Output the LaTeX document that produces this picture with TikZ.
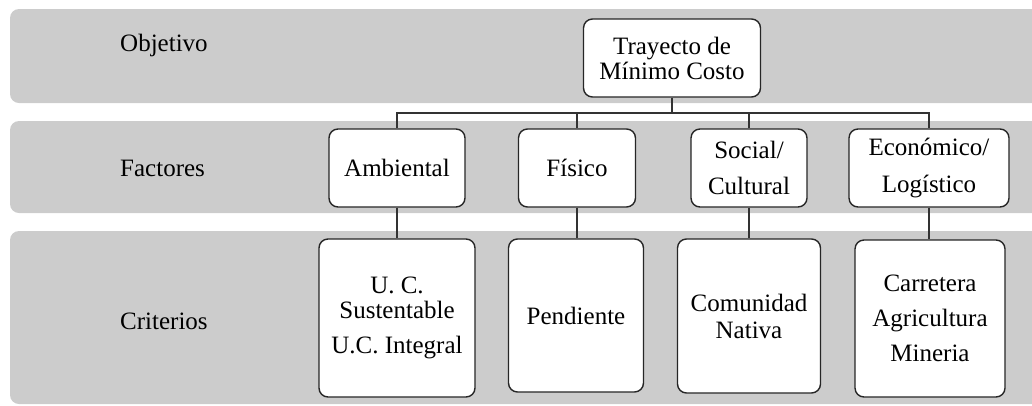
\documentclass[tikz,border=0pt]{standalone}
\usepackage{fontspec}
\setmainfont{Liberation Serif}
\begin{document}
\begin{tikzpicture}[x=1pt,y=-1pt,
  band/.style={fill=black!20, rounded corners=9pt},
  lbl/.style={anchor=west, inner sep=0pt, font=\fontsize{25}{25}\selectfont},
  box/.style={draw=black!85, line width=1.4pt, fill=white, rounded corners=9pt,
    inner sep=0pt, align=center, font=\fontsize{25}{25}\selectfont},
  link/.style={draw=black!80, line width=1.6pt}
]
\useasboundingbox (0,0) rectangle (1032,405);
% bands
\fill[band] (10,9) rectangle (1045,103);
\fill[band] (10,121) rectangle (1045,213);
\fill[band] (10,231) rectangle (1045,404);
% row labels
\node[lbl] (lobj) at (120,45) {Objetivo};
\node[lbl] (lfac) at (120,168) {Factores};
\node[lbl] (lcri) at (120,321) {Criterios};
% top node
\node[box, minimum width=177pt, minimum height=78pt] (top) at (672,58) {Trayecto de\\Mínimo Costo};
% factor nodes
\node[box, minimum width=136pt, minimum height=78pt] (amb) at (397,168) {Ambiental};
\node[box, minimum width=117pt, minimum height=78pt] (fis) at (577,168) {Físico};
\node[box, minimum width=116pt, minimum height=78pt] (soc) at (749,168) {Social/\\[11pt]Cultural};
\node[box, minimum width=160pt, minimum height=78pt] (eco) at (929,168) {Económico/\\[11pt]Logístico};
% criteria nodes
\node[box, minimum width=156pt, minimum height=158pt] (uc) at (397,318) {U. C.\\Sustentable\\[10pt]U.C. Integral};
\node[box, minimum width=135pt, minimum height=153pt] (pen) at (576,315.5) {Pendiente};
\node[box, minimum width=143pt, minimum height=154pt] (com) at (749,316) {Comunidad\\[2pt]Nativa};
\node[box, minimum width=150pt, minimum height=157pt] (car) at (930,318.5) {Carretera\\[10pt]Agricultura\\[10pt]Mineria};
% connectors
\coordinate (bus) at (672,113);
\draw[link, line width=2.6pt] (top.south) -- (bus);
\draw[link] (amb.north) |- (bus) -| (eco.north);
\draw[link] (fis.north) -- (fis.north |- bus);
\draw[link] (soc.north) -- (soc.north |- bus);
\draw[link] (amb.south) -- (uc.north);
\draw[link] (fis.south) -- (fis.south |- pen.north);
\draw[link] (soc.south) -- (com.north);
\draw[link] (eco.south) -- (eco.south |- car.north);
\end{tikzpicture}
\end{document}
